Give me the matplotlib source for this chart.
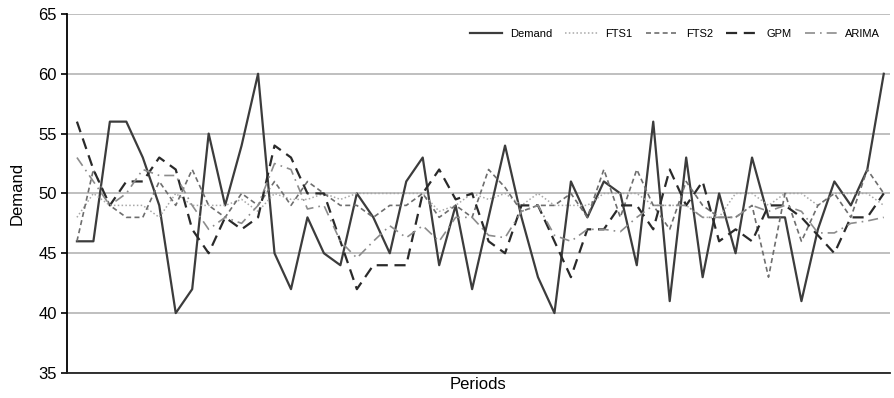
import numpy as np
import matplotlib.pyplot as plt

plt.rcParams['font.family'] = ['Liberation Sans', 'DejaVu Sans']

# values, one per period
demand = [46, 46, 56, 56, 53, 49, 40, 42, 55, 49, 54, 60, 45, 42, 48, 45, 44, 50, 48, 45,
          51, 53, 44, 49, 42, 48, 54, 48, 43, 40, 51, 48, 51, 50, 44, 56, 41, 53, 43, 50,
          45, 53, 48, 48, 41, 47, 51, 49, 52, 60]
fts1 = [48, 50, 49, 49, 49, 48, 50, 49, 49, 49, 49.5, 48.5, 50, 49.5, 49.5, 50, 49.5, 50, 50, 50,
        50, 50, 48.5, 49, 50, 49.5, 50, 49, 50, 49, 49, 49, 50, 50, 50, 49, 49, 49, 48, 48,
        50, 50, 49, 50, 50, 49, 50, 50, 50, 49]
fts2 = [46, 52, 49, 48, 48, 51, 49, 52, 49, 48, 50, 49, 51, 49, 51, 50, 49, 49, 48, 49,
        49, 50, 48, 49, 48, 52, 50.5, 48.5, 49, 49, 50, 48, 52, 48, 52, 49, 47, 51, 49, 48,
        48, 49, 43, 50, 46, 49, 50, 48, 52, 50]
gpm = [56, 52, 49, 51, 51, 53, 52, 47, 45, 48, 47, 48, 54, 53, 50, 50, 46, 42, 44, 44,
       44, 50, 52, 49.5, 50, 46, 45, 49, 49, 46, 43, 47, 47, 49, 49, 47, 52, 49, 51, 46,
       47, 46, 49, 49, 48, 46.5, 45, 48, 48, 50]
arima = [53, 51, 49, 50, 52, 51.5, 51.5, 49, 47, 48, 47.5, 49, 52.5, 52, 48.7, 49, 46, 44.6, 46, 47.3,
         46.3, 47.3, 46, 48, 48, 46.5, 46.3, 48.5, 49, 46.5, 46, 47, 47, 46.8, 48, 49, 49, 49, 48, 48,
         48, 49, 48.5, 49, 48.5, 46.7, 46.7, 47.5, 47.7, 48]

periods = np.arange(len(demand))

fig = plt.figure(figsize=(8.94, 3.98), dpi=100)
ax = fig.add_axes([0.075, 0.063, 0.92, 0.902])

ax.plot(periods, demand, color='#3c3c3c', lw=1.6, label='Demand')
ax.plot(periods, fts1, color='#a8a8a8', lw=1.1, linestyle=(0, (1, 1.5)), label='FTS1')
ax.plot(periods, fts2, color='#6e6e6e', lw=1.2, linestyle=(0, (3, 2)), label='FTS2')
ax.plot(periods, gpm, color='#2a2a2a', lw=1.6, linestyle=(0, (5, 3)), label='GPM')
ax.plot(periods, arima, color='#8c8c8c', lw=1.2, linestyle=(0, (6, 3, 1, 3)), label='ARIMA')

ax.set_xlim(-0.6, 49.35)
ax.set_ylim(35, 65)
ax.set_yticks(range(35, 66, 5))
ax.set_xticks([])
ax.yaxis.grid(True, color='#b4b4b4', lw=1.2)
ax.set_axisbelow(True)
for s in ['top', 'right']:
    ax.spines[s].set_visible(False)
ax.spines['left'].set_color('black')
ax.spines['bottom'].set_color('#222222')
ax.spines['left'].set_linewidth(1.3)
ax.spines['bottom'].set_linewidth(1.3)
ax.tick_params(axis='y', labelsize=12, length=4, width=1.2, direction='out')

ax.set_xlabel('Periods', fontsize=12, labelpad=3)
ax.set_ylabel('Demand', fontsize=12, labelpad=10)

ax.legend(loc='upper right', ncol=5, fontsize=8, frameon=False,
          bbox_to_anchor=(1.0, 0.985), handlelength=2.9, columnspacing=1.2, handletextpad=0.7)

fig.savefig('out.png', dpi=100)
